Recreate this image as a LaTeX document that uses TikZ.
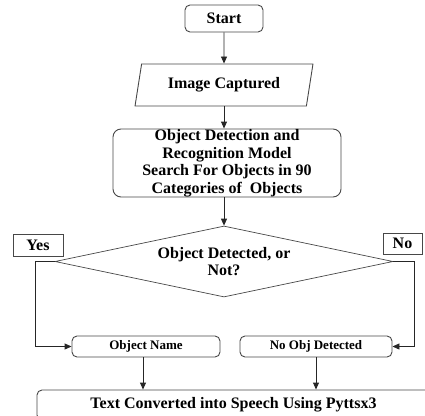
\documentclass[tikz,border=0pt]{standalone}
\usepackage{fontspec}
\setmainfont{Liberation Serif}
\usetikzlibrary{shapes.geometric,arrows.meta}
\begin{document}
\begin{tikzpicture}[x=1pt,y=-1pt,
  edge/.style={draw=black!72, line width=0.9pt},
  bigtext/.style={font=\fontsize{16}{17.5}\selectfont\bfseries, align=center},
  smalltext/.style={font=\fontsize{13}{15}\selectfont\bfseries, align=center},
  rbox/.style={edge, rectangle, rounded corners=5pt, inner sep=0pt},
  flag/.style={edge, rectangle, inner sep=0pt},
  arr/.style={draw=black!85, line width=0.9pt, -{Triangle[length=7pt,width=6pt]}},
  link/.style={draw=black!85, line width=0.9pt}]
\useasboundingbox (0,0) rectangle (425,415);

% process steps
\node[rbox, bigtext, minimum width=78pt, minimum height=27pt] (start) at (224,18.5) {Start};
\node[edge, bigtext, trapezium, trapezium left angle=73, trapezium right angle=107,
      trapezium stretches=true, minimum width=178pt, minimum height=42pt, inner sep=0pt]
      (img) at (224,85) {Image Captured};
\node[rbox, bigtext, rounded corners=8pt, minimum width=228pt, minimum height=68pt] (model) at (227,163)
  {Object Detection and\\Recognition Model\\Search For Objects in 90\\Categories of \ Objects};
\node[edge, line width=0.7pt, diamond, aspect=4.76, minimum width=338pt, minimum height=71pt, inner sep=0pt,
      bigtext] (dec) at (224,261.5) {\fontsize{16}{18}\selectfont Object Detected, or\\Not?};

% branch labels
\node[flag, bigtext, minimum width=50pt, minimum height=22pt] (yes) at (38,245) {Yes};
\node[flag, bigtext, minimum width=39pt, minimum height=21pt] (no) at (402.5,243.5) {No};

% outcomes
\node[rbox, smalltext, minimum width=148pt, minimum height=21pt] (oname) at (146,346.5) {Object Name};
\node[rbox, smalltext, minimum width=152pt, minimum height=21pt] (noobj) at (316,346.5) {No Obj Detected};
\node[rbox, bigtext, minimum width=393pt, minimum height=30pt] (speech) at (233.5,405)
  {Text Converted into Speech Using Pyttsx3};

% connectors
\draw[arr] (start.south) -- (img.north);
\draw[arr] (img.south) -- (model.north -| img.south);
\draw[arr] (model.south -| dec.north) -- (dec.north);
\draw[arr] (dec.west) -- ++(-19,0) |- (oname.west);
\draw[arr] (dec.east) -- ++(21,0) |- (noobj.east);
\draw[arr] ([xshift=-3pt]oname.south) -- ([xshift=-3pt]oname.south |- speech.north);
\draw[arr] (noobj.south) -- (noobj.south |- speech.north);
\end{tikzpicture}
\end{document}
